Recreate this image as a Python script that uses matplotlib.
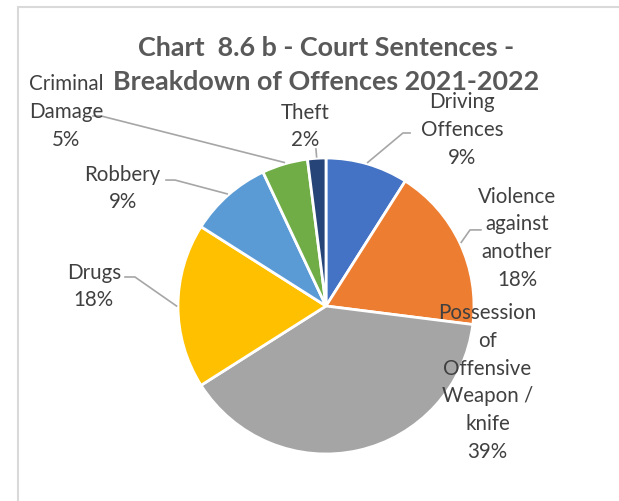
import numpy as np
import matplotlib.pyplot as plt
from matplotlib.patches import Rectangle

offences = ['Driving\nOffences', 'Violence\nagainst\nanother',
            'Possession\nof\nOffensive\nWeapon /\nknife', 'Drugs', 'Robbery',
            'Criminal\nDamage', 'Theft']
shares = [9, 18, 39, 18, 9, 5, 2]
colours = ['#4472C4', '#ED7D31', '#A5A5A5', '#FFC000', '#5B9BD5', '#70AD47', '#264478']

# label centres and leader elbows, in pie units (radius = 1)
label_pos = [(0.919, 1.196), (1.291, 0.466), (1.091, -0.510), (-1.568, 0.139),
             (-1.375, 0.801), (-1.757, 1.318), (-0.139, 1.220)]
elbows = [[(0.568, 1.169), (0.520, 1.169)],
          [(1.047, 0.514), (0.973, 0.514)],
          None,
          [(-1.358, 0.196), (-1.291, 0.196)],
          [(-1.081, 0.851), (-1.020, 0.851)],
          [(-1.574, 1.284), (-1.520, 1.284)],
          [(-0.068, 1.061)]]

plt.rcParams['font.family'] = ['Lato', 'DejaVu Sans']

W, H = 619, 502
fig = plt.figure(figsize=(W / 100, H / 100), dpi=100)

# chart frame (runs off the right and bottom edges)
fig.add_artist(Rectangle((18 / W, -0.1), 2, 1 - 8 / H + 0.1, transform=fig.transFigure,
                         fill=False, edgecolor='#d9d9d9', lw=1.5))

cx, cy, r = 326, 307, 148
ax = fig.add_axes([(cx - r) / W, (H - cy - r) / H, 2 * r / W, 2 * r / H])
wedges, _ = ax.pie(shares, colors=colours, startangle=90, counterclock=False,
                   wedgeprops=dict(edgecolor='white', linewidth=2))
ax.set_xlim(-1, 1)
ax.set_ylim(-1, 1)
ax.axis('off')

for w, name, val, pos, elb in zip(wedges, offences, shares, label_pos, elbows):
    ax.text(pos[0], pos[1], f'{name}\n{val}%', ha='center', va='center',
            fontsize=14.8, color='#404040', linespacing=1.48, zorder=5, clip_on=False)
    if elb is None:
        continue
    mid = np.deg2rad((w.theta1 + w.theta2) / 2)
    pts = elb + [(np.cos(mid) * 1.01, np.sin(mid) * 1.01)]
    xs, ys = zip(*pts)
    ax.plot(xs, ys, color='#a6a6a6', lw=1.2, clip_on=False, zorder=4)

fig.text(326 / W, 1 - 64.5 / H, 'Chart  8.6 b - Court Sentences -\nBreakdown of Offences 2021-2022',
         ha='center', va='center', fontsize=19.4, fontweight='bold', color='#595959',
         linespacing=1.5)

fig.savefig('out.png', dpi=100)
